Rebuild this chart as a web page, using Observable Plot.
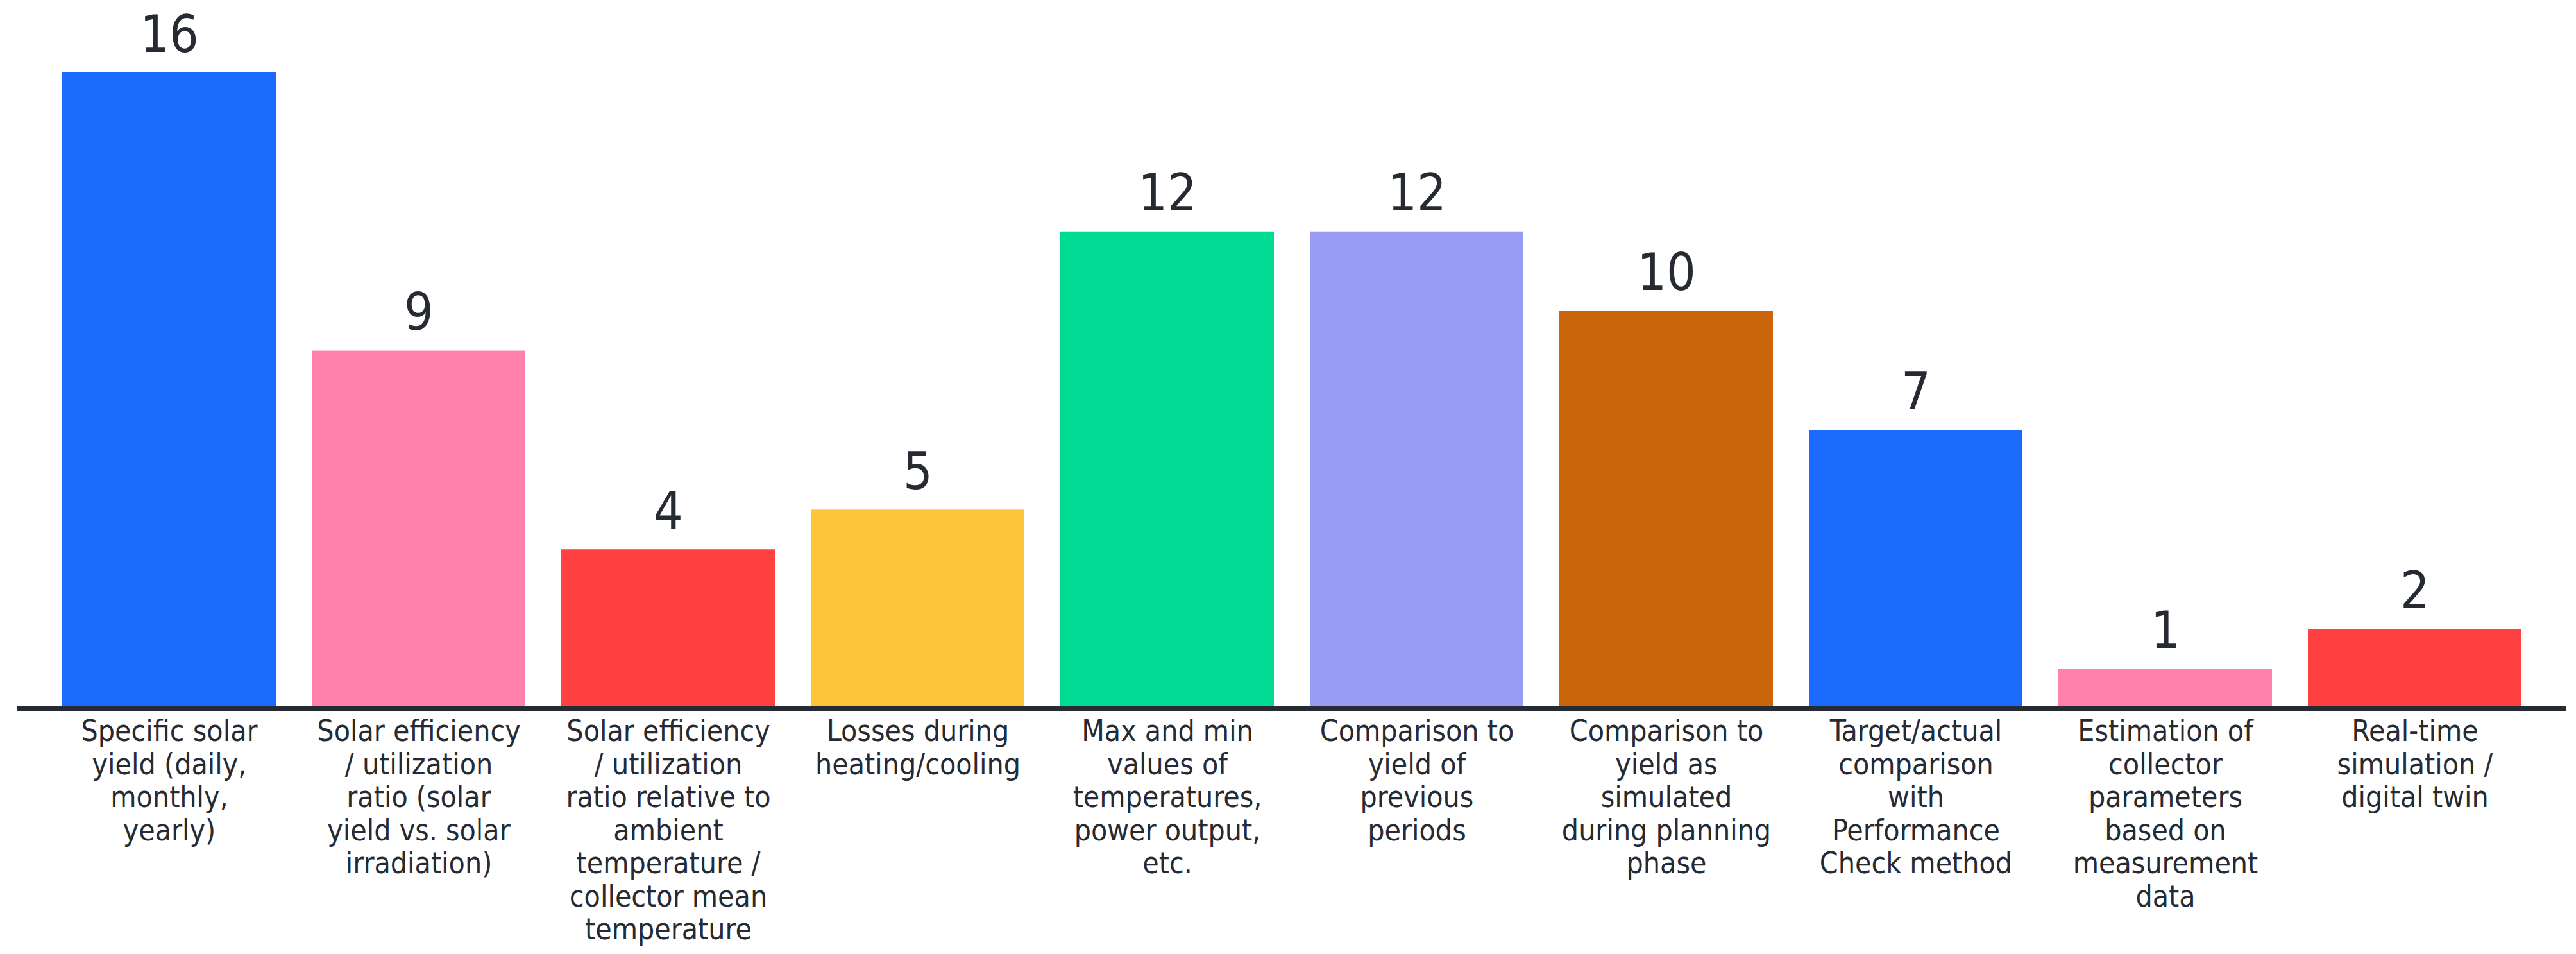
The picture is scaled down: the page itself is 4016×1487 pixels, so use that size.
<!DOCTYPE html>
<html>
<head>
<meta charset="utf-8">
<script src="https://cdn.jsdelivr.net/npm/d3@7"></script>
<script src="https://cdn.jsdelivr.net/npm/@observablehq/plot@0.6"></script>
<style>
  html, body { margin: 0; padding: 0; background: #ffffff; }
  #chart svg { display: block; }
</style>
</head>
<body>
<div id="chart"></div>
<script>
const tickLabels = [
  "Specific solar\nyield (daily,\nmonthly,\nyearly)",
  "Solar efficiency\n/ utilization\nratio (solar\nyield vs. solar\nirradiation)",
  "Solar efficiency\n/ utilization\nratio relative to\nambient\ntemperature /\ncollector mean\ntemperature",
  "Losses during\nheating/cooling",
  "Max and min\nvalues of\ntemperatures,\npower output,\netc.",
  "Comparison to\nyield of\nprevious\nperiods",
  "Comparison to\nyield as\nsimulated\nduring planning\nphase",
  "Target/actual\ncomparison\nwith\nPerformance\nCheck method",
  "Estimation of\ncollector\nparameters\nbased on\nmeasurement\ndata",
  "Real-time\nsimulation /\ndigital twin"
];
const categories = tickLabels.map(s => s.replace(/\n/g, " "));
const values = [16, 9, 4, 5, 12, 12, 10, 7, 1, 2];
const colors = ["#1b6bff", "#ff80ab", "#ff4040", "#ffc53a", "#00da93", "#989cf4", "#cb650c", "#1b6bff", "#ff80ab", "#ff4040"];

const data = categories.map((c, i) => ({category: c, value: values[i], color: colors[i], label: tickLabels[i]}));
const labelOf = new Map(data.map(d => [d.category, d.label]));

const FONT = "'Liberation Sans Narrow', 'DejaVu Sans Condensed', 'Liberation Sans', sans-serif";
const INK = "#262a33";

const chart = Plot.plot({
  width: 4016,
  height: 1487,
  marginTop: 113,
  marginBottom: 383,
  marginLeft: 26,
  marginRight: 16,
  style: {fontFamily: FONT, background: "#ffffff", color: INK},
  x: {domain: categories, range: [39, 3988], padding: 0.144, label: null},
  y: {domain: [0, 16], axis: null},
  color: {type: "identity"},
  marks: [
    Plot.barY(data, {x: "category", y: "value", fill: "color"}),
    Plot.text(data, {x: "category", y: "value", text: d => String(d.value), dy: -33, lineAnchor: "bottom", fontSize: 80, fill: INK}),
    Plot.ruleY([0], {stroke: INK, strokeWidth: 9}),
    Plot.axisX({tickSize: 0, tickPadding: 14, fontSize: 46, lineHeight: 1.12, tickFormat: c => labelOf.get(c), fill: INK, label: null})
  ]
});
document.getElementById("chart").appendChild(chart);
</script>
</body>
</html>
